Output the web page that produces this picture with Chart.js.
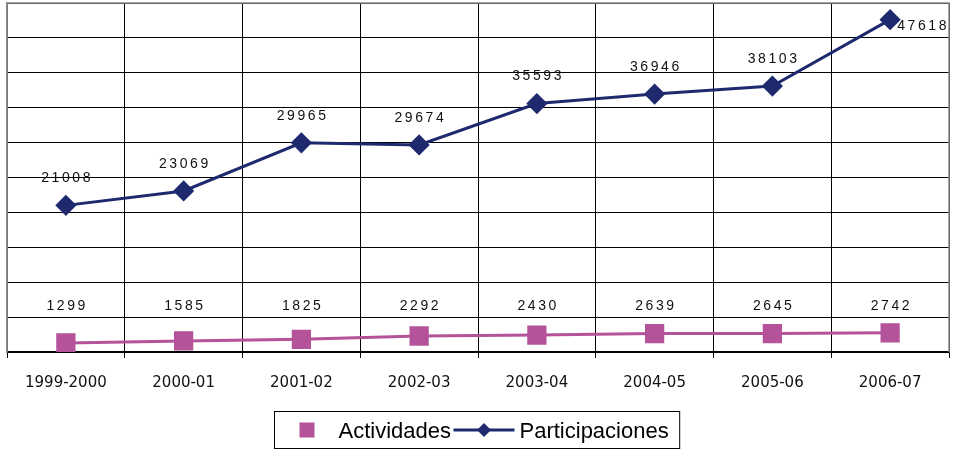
<!DOCTYPE html>
<html>
<head>
<meta charset="utf-8">
<script src="https://cdn.jsdelivr.net/npm/chart.js@4"></script>
<style>
  html, body { margin: 0; padding: 0; background: #fff; }
  #grafico { display: block; }
</style>
</head>
<body>
<canvas id="grafico" width="953" height="451"></canvas>
<script>
const categorias = ['1999-2000', '2000-01', '2001-02', '2002-03', '2003-04', '2004-05', '2005-06', '2006-07'];
const actividades = [1299, 1585, 1825, 2292, 2430, 2639, 2645, 2742];
const participaciones = [21008, 23069, 29965, 29674, 35593, 36946, 38103, 47618];
const ejeMax = 50000;
const ejePaso = 5000;

const colorAzul = '#1F2A6E';
const colorRosa = '#B4539A';
const filaActividades = 6600; // fila donde van las etiquetas de actividades

// etiquetas con los valores encima de cada punto
const etiquetas = {
  id: 'etiquetas',
  afterDatasetsDraw(chart) {
    const ctx = chart.ctx;
    const y = chart.scales.y;
    ctx.save();
    ctx.font = '14px "Liberation Sans", Arial, sans-serif';
    ctx.letterSpacing = '2.6px';
    ctx.fillStyle = '#111';
    ctx.textBaseline = 'middle';
    ctx.textAlign = 'left';
    chart.data.datasets.forEach((ds, i) => {
      const meta = chart.getDatasetMeta(i);
      meta.data.forEach((p, j) => {
        const txt = String(ds.data[j]);
        const w = ctx.measureText(txt).width - 2.6;
        let tx = p.x - w / 2;
        let ty;
        if (i === 0) {
          ty = y.getPixelForValue(filaActividades);
        } else {
          ty = p.y - 27;
          if (ty < chart.chartArea.top + 10) {
            tx = p.x + 7;
            ty = p.y + 7;
          }
        }
        ctx.fillText(txt, tx, ty);
      });
    });
    ctx.restore();
  }
};

// borde gris del área y leyenda con recuadro
const marco = {
  id: 'marco',
  afterDraw(chart) {
    const ctx = chart.ctx;
    const a = chart.chartArea;
    ctx.save();
    ctx.strokeStyle = '#8a8a8a';
    ctx.lineWidth = 1.5;
    ctx.beginPath();
    ctx.moveTo(a.left, a.bottom);
    ctx.lineTo(a.left, a.top);
    ctx.lineTo(a.right, a.top);
    ctx.lineTo(a.right, a.bottom);
    ctx.stroke();

    ctx.font = '22px "Liberation Sans", Arial, sans-serif';
    const w1 = ctx.measureText('Actividades').width;
    const w2 = ctx.measureText('Participaciones').width;
    const total = 25 + 15 + 24 + w1 + 2.5 + 61 + 5 + w2 + 11;
    const x0 = Math.round((chart.width - total) / 2) + 0.5;
    const y0 = 411.5;
    ctx.strokeStyle = '#000';
    ctx.lineWidth = 1;
    ctx.strokeRect(x0, y0, total, 37);

    const cy = 430;
    let x = x0 + 25;
    ctx.fillStyle = colorRosa;
    ctx.fillRect(x, cy - 7.5, 15, 15);
    x += 15 + 24;
    ctx.fillStyle = '#000';
    ctx.textBaseline = 'alphabetic';
    ctx.fillText('Actividades', x, 438);
    x += w1 + 2.5;
    ctx.strokeStyle = colorAzul;
    ctx.lineWidth = 3;
    ctx.beginPath();
    ctx.moveTo(x, cy);
    ctx.lineTo(x + 61, cy);
    ctx.stroke();
    const dx = x + 30.5;
    ctx.fillStyle = colorAzul;
    ctx.beginPath();
    ctx.moveTo(dx, cy - 7);
    ctx.lineTo(dx + 7, cy);
    ctx.lineTo(dx, cy + 7);
    ctx.lineTo(dx - 7, cy);
    ctx.closePath();
    ctx.fill();
    x += 61 + 5;
    ctx.fillStyle = '#000';
    ctx.fillText('Participaciones', x, 438);
    ctx.restore();
  }
};

const ctx = document.getElementById('grafico');

new Chart(ctx, {
  type: 'line',
  data: {
    labels: categorias,
    datasets: [{
      label: 'Actividades',
      data: actividades,
      borderColor: colorRosa,
      backgroundColor: colorRosa,
      borderWidth: 3,
      pointStyle: 'rect',
      pointRadius: 11.5,
      pointHoverRadius: 11.5,
      tension: 0
    }, {
      label: 'Participaciones',
      data: participaciones,
      borderColor: colorAzul,
      backgroundColor: colorAzul,
      borderWidth: 3,
      pointStyle: 'rectRot',
      pointRadius: 8.5,
      pointHoverRadius: 8.5,
      tension: 0
    }]
  },
  options: {
    responsive: false,
    animation: false,
    layout: {
      autoPadding: false,
      padding: { left: 7, right: 4, top: 3, bottom: 43 }
    },
    plugins: {
      legend: { display: false },
      tooltip: { enabled: false }
    },
    scales: {
      x: {
        offset: true,
        grid: {
          offset: true,
          color: '#000',
          lineWidth: 1,
          drawTicks: true,
          tickLength: 6,
          tickColor: '#000'
        },
        border: { color: '#000', width: 1.5 },
        ticks: {
          color: '#111',
          padding: 16,
          font: { family: '"DejaVu Sans", Verdana, sans-serif', size: 15 }
        }
      },
      y: {
        min: 0,
        max: ejeMax,
        ticks: { display: false, stepSize: ejePaso },
        grid: { color: '#000', lineWidth: 1, drawTicks: false },
        border: { color: '#8a8a8a', width: 1.5 }
      }
    }
  },
  plugins: [etiquetas, marco]
});
</script>
</body>
</html>
